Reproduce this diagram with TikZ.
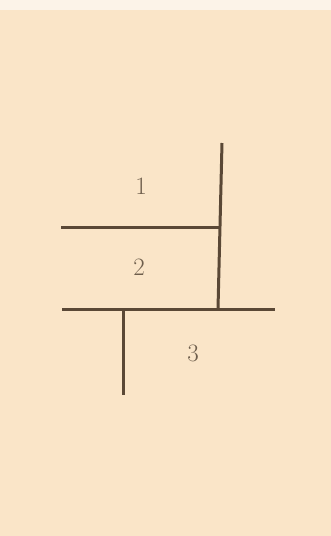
\documentclass[tikz,border=0pt]{standalone}
\begin{document}
\begin{tikzpicture}[x=1pt,y=-1pt,
  wall/.style={draw=wallc,line width=3pt},
  lbl/.style={text=textc,font=\fontsize{25}{28}\selectfont,inner sep=0pt}]
\definecolor{bgc}{HTML}{FAE5C8}
\definecolor{topc}{HTML}{FCF3E8}
\definecolor{wallc}{HTML}{5A4836}
\definecolor{textc}{HTML}{6E5E4C}
\useasboundingbox (0,0) rectangle (331,536);
\fill[bgc] (0,0) rectangle (331,536);
\fill[topc] (0,0) rectangle (331,10);
\coordinate (a1) at (61,227);
\coordinate (a2) at (220,227);
\coordinate (v1) at (222,143);
\coordinate (v2) at (218,309);
\coordinate (b1) at (62,309);
\coordinate (b2) at (275,309);
\coordinate (c1) at (123,309);
\coordinate (c2) at (123,395);
\draw[wall] (a1) -- (a2);
\draw[wall] (v1) -- (v2);
\draw[wall] (b1) -- (b2);
\draw[wall] (c1) -- (c2);
\node[lbl] (n1) at (141,186) {1};
\node[lbl] (n2) at (139,267) {2};
\node[lbl] (n3) at (193,353) {3};
\end{tikzpicture}
\end{document}
